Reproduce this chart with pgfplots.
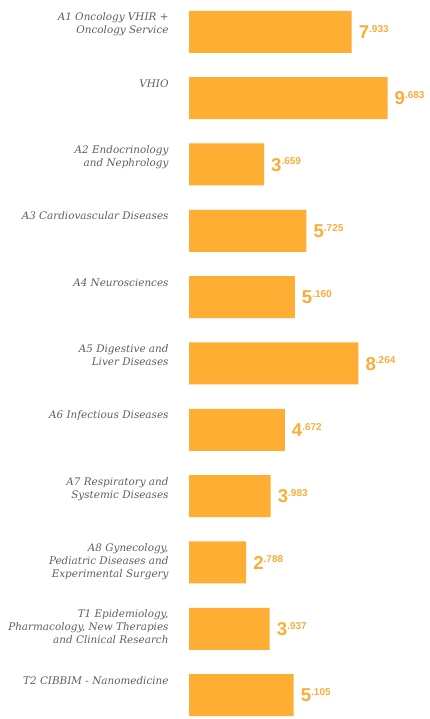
\documentclass[border=0pt]{standalone}
\usepackage{pgfplots}
\pgfplotsset{compat=1.18}
\usepackage{fontspec}
\setmainfont{DejaVu Serif}
\newfontfamily\valfont{Liberation Sans}
\definecolor{barc}{HTML}{FDAE33}
\definecolor{valc}{HTML}{F9AD3A}
\definecolor{labc}{HTML}{5E5E5E}
\newcommand\valtext[1]{%
  \pgfmathtruncatemacro\ip{#1}%
  \pgfmathtruncatemacro\fp{round((#1-\ip)*1000)}%
  {\fontsize{18.6}{18.6}\selectfont\ip}\raisebox{6.3pt}{\fontsize{10}{10}\selectfont .\ifnum\fp<100 0\fi\ifnum\fp<10 0\fi\fp}}
\begin{document}
\begin{tikzpicture}
\begin{axis}[
  at={(189pt,0pt)}, anchor=south west,
  scale only axis, width=241pt, height=719pt,
  xbar, bar width=42pt, bar shift=0pt,
  xmin=0, xmax=11.756, ymin=-0.48, ymax=10.36, y dir=reverse,
  clip=false,
  axis line style={draw=none}, tick style={draw=none},
  xtick=\empty,
  ytick={0,1,2,3,4,5,6,7,8,9,10},
  yticklabels={
    {A1 Oncology VHIR +\\Oncology Service},
    {VHIO},
    {A2 Endocrinology\\and Nephrology},
    {A3 Cardiovascular Diseases},
    {A4 Neurosciences},
    {A5 Digestive and\\Liver Diseases},
    {A6 Infectious Diseases},
    {A7 Respiratory and\\Systemic Diseases},
    {A8 Gynecology,\\Pediatric Diseases and\\Experimental Surgery},
    {T1 Epidemiology,\\Pharmacology, New Therapies\\and Clinical Research},
    {T2 CIBBIM - Nanomedicine}},
  yticklabel style={font=\itshape\fontsize{10.4}{13}\selectfont, text=labc, align=right,
    anchor=north east, inner sep=0pt, xshift=-16pt, yshift=19pt},
  visualization depends on={rawx \as \rawx},
  nodes near coords={\valtext{\rawx}},
  nodes near coords style={font=\valfont\bfseries, text=valc, anchor=west, inner sep=0pt, xshift=7pt},
]
\addplot[fill=barc, draw=none] coordinates {
  (7.933,0) (9.683,1) (3.659,2) (5.725,3) (5.160,4) (8.264,5)
  (4.672,6) (3.983,7) (2.788,8) (3.937,9) (5.105,10)};
\end{axis}
\pgfresetboundingbox
\useasboundingbox (0,0) rectangle (430pt,719pt);
\end{tikzpicture}
\end{document}
